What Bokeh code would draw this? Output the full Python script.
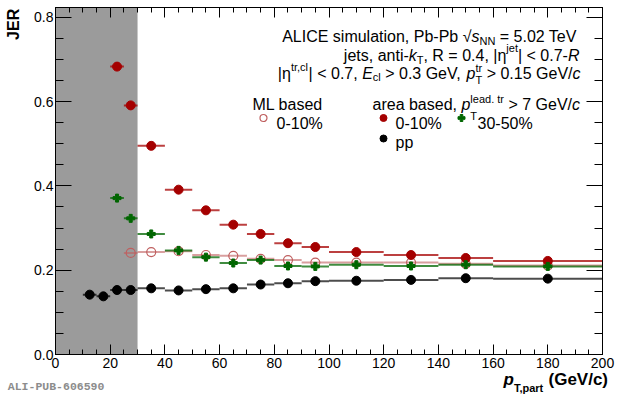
from bokeh.plotting import figure
from bokeh.models import (Range1d, LinearAxis, SingleIntervalTicker, Label,
                          BoxAnnotation, ColumnDataSource, PrintfTickFormatter)
from bokeh.embed import file_html
from bokeh.resources import INLINE

# ---------------- data ----------------
pp_lo = [10, 15, 20, 25, 30, 40, 50, 60, 70, 80, 90, 100, 120, 140, 160]
pp_hi = [15, 20, 25, 30, 40, 50, 60, 70, 80, 90, 100, 120, 140, 160, 200]
pp_jer = [0.142, 0.138, 0.153, 0.153, 0.157, 0.152, 0.155, 0.157, 0.166,
          0.169, 0.174, 0.175, 0.177, 0.181, 0.180]

pb_lo = [20, 25, 30, 40, 50, 60, 70, 80, 90, 100, 120, 140, 160]
pb_hi = [25, 30, 40, 50, 60, 70, 80, 90, 100, 120, 140, 160, 200]
area_0010 = [0.683, 0.591, 0.495, 0.391, 0.342, 0.308, 0.286, 0.264, 0.255,
             0.243, 0.236, 0.229, 0.222]
area_3050 = [0.371, 0.323, 0.286, 0.247, 0.231, 0.217, 0.224, 0.210, 0.209,
             0.213, 0.210, 0.213, 0.209]

ml_lo = [25, 30, 40, 50, 60, 70, 80, 90, 100, 120, 140, 160]
ml_hi = [30, 40, 50, 60, 70, 80, 90, 100, 120, 140, 160, 200]
ml_0010 = [0.241, 0.243, 0.245, 0.236, 0.234, 0.227, 0.224, 0.218, 0.218,
           0.218, 0.215, 0.211]

excluded_lo, excluded_hi = 0, 30
x_min, x_max = 0, 200
y_min, y_max = 0.0, 0.8232

RED = "#a50000"
GREEN = "#006600"
ML = "#bf5f5f"
BLACK = "#000000"
FONT = "Liberation Sans"

# ---------------- main figure ----------------
W, H = 620, 395
FL, FR, FT, FB = 55, 18, 7, 41   # borders in canvas px
p = figure(width=W, height=H, x_range=Range1d(x_min, x_max),
           y_range=Range1d(y_min, y_max), output_backend="svg",
           toolbar_location=None, min_border_left=FL, min_border_right=FR,
           min_border_top=FT, min_border_bottom=FB)
p.xgrid.visible = False
p.ygrid.visible = False
p.outline_line_color = "black"
p.outline_line_width = 1
p.background_fill_color = "white"
p.border_fill_color = "white"

frame_w = W - FL - FR
frame_h = H - FT - FB


def px2x(X):
    return x_min + (X - FL) * (x_max - x_min) / frame_w


def py2y(Y):
    return y_min + (FT + frame_h - Y) * (y_max - y_min) / frame_h


def style_axis(ax, major_len, minor_len, labels=True):
    ax.major_tick_in = major_len
    ax.major_tick_out = 0
    ax.minor_tick_in = minor_len
    ax.minor_tick_out = 0
    ax.axis_line_color = "black"
    ax.major_tick_line_color = "black"
    ax.minor_tick_line_color = "black"
    if labels:
        ax.major_label_text_font = FONT
        ax.major_label_text_font_size = "14px"
        ax.major_label_text_color = "black"
    else:
        ax.major_label_text_font_size = "1px"
        ax.major_label_text_color = None
        ax.major_label_standoff = 0


p.xaxis.ticker = SingleIntervalTicker(interval=20, num_minor_ticks=4)
p.xaxis.formatter = PrintfTickFormatter(format="%d")
p.yaxis.ticker = SingleIntervalTicker(interval=0.2, num_minor_ticks=4)
p.yaxis.formatter = PrintfTickFormatter(format="%.1f")
style_axis(p.xaxis[0], 10, 5)
style_axis(p.yaxis[0], 16, 8)
p.xaxis.major_label_standoff = 3
p.yaxis.major_label_standoff = 2

top = LinearAxis(ticker=SingleIntervalTicker(interval=20, num_minor_ticks=4))
style_axis(top, 10, 5, labels=False)
p.add_layout(top, "above")
right = LinearAxis(ticker=SingleIntervalTicker(interval=0.2, num_minor_ticks=4))
style_axis(right, 16, 8, labels=False)
p.add_layout(right, "right")

# grey excluded region
p.add_layout(BoxAnnotation(left=excluded_lo, right=excluded_hi,
                           fill_color="#9b9b9b", fill_alpha=1.0,
                           line_alpha=0, level="underlay"))


def series(lo, hi, y, color, marker, bar_alpha, fill=True):
    src = ColumnDataSource(dict(lo=lo, hi=hi, y=y,
                                x=[(a + b) / 2 for a, b in zip(lo, hi)]))
    p.segment(x0="lo", x1="hi", y0="y", y1="y", source=src,
              line_color=color, line_alpha=bar_alpha, line_width=2)
    if marker == "plus":
        p.scatter("x", "y", source=src, marker="plus", size=8,
                  fill_color=color, line_color=color)
    elif fill:
        p.scatter("x", "y", source=src, marker="circle", size=9,
                  fill_color=color, line_color=color)
    else:
        p.scatter("x", "y", source=src, marker="circle", size=9,
                  fill_color=None, line_color=color, line_width=1.2)


series(ml_lo, ml_hi, ml_0010, ML, "circle", 0.6, fill=False)
series(pb_lo, pb_hi, area_0010, RED, "circle", 0.75)
series(pb_lo, pb_hi, area_3050, GREEN, "plus", 0.75)
series(pp_lo, pp_hi, pp_jer, BLACK, "circle", 0.7)

# ---------------- overlay for texts outside the frame ----------------
ov = figure(frame_width=W, frame_height=H, x_range=Range1d(0, W),
            y_range=Range1d(H, 0), output_backend="svg",
            toolbar_location=None, min_border=0, min_border_left=0,
            min_border_right=0, min_border_top=0, min_border_bottom=0,
            x_axis_type=None, y_axis_type=None, margin=(-H, 0, 0, 0))
ov.grid.visible = False
ov.outline_line_color = None
ov.background_fill_alpha = 0
ov.border_fill_alpha = 0

# ---------------- text helpers ----------------
HELV = {' ': 278, '!': 278, '%': 889, '(': 333, ')': 333, ',': 278, '-': 333,
        '.': 278, '/': 278, '<': 584, '=': 584, '>': 584, '|': 260,
        '√': 549, 'η': 556,
        'A': 667, 'B': 667, 'C': 722, 'D': 722, 'E': 667, 'F': 611, 'G': 778,
        'H': 722, 'I': 278, 'J': 500, 'K': 667, 'L': 556, 'M': 833, 'N': 722,
        'O': 778, 'P': 667, 'Q': 778, 'R': 722, 'S': 667, 'T': 611, 'U': 722,
        'V': 667, 'W': 944, 'X': 667, 'Y': 667, 'Z': 611,
        'a': 556, 'b': 556, 'c': 500, 'd': 556, 'e': 556, 'f': 278, 'g': 556,
        'h': 556, 'i': 222, 'j': 222, 'k': 500, 'l': 222, 'm': 833, 'n': 556,
        'o': 556, 'p': 556, 'q': 556, 'r': 333, 's': 500, 't': 278, 'u': 556,
        'v': 500, 'w': 722, 'x': 500, 'y': 500, 'z': 500}
for d in "0123456789":
    HELV[d] = 556
HELVB = dict(HELV)
HELVB.update({'c': 556, 'p': 611, 'r': 389, 't': 333, 'J': 556})


def tw(s, size, bold=False):
    tab = HELVB if bold else HELV
    return sum(tab.get(ch, 556) for ch in s) * size / 1000.0


def label(X, Y, text, size=16, style="normal", color="black", align="left",
          baseline="alphabetic", font=FONT, angle=0, target="main"):
    stripped = text.lstrip(" ")
    X = X + tw(text[:len(text) - len(stripped)], size)
    if target == "main":
        fig, x, y = p, px2x(X), py2y(Y)
    else:
        fig, x, y = ov, X, Y
    fig.add_layout(Label(x=x, y=y, text=stripped, text_font=font,
                         text_font_size=f"{size}px", text_font_style=style,
                         text_color=color, text_align=align,
                         text_baseline=baseline, angle=angle,
                         angle_units="deg"))


def rich(segs, base, left=None, right=None, size=16, small=11):
    """segs: list of (kind, text, dy). kind: n, i, sub, sup, stack."""
    def seg_w(s):
        kind, txt, dy = s
        if kind in ("n", "i"):
            return tw(txt, size)
        if kind == "stack":
            return max(tw(txt[0], small), tw(txt[1], small))
        return tw(txt, small)
    total = sum(seg_w(s) for s in segs)
    x = left if left is not None else right - total
    for s in segs:
        kind, txt, dy = s
        if kind == "n":
            label(x, base - dy, txt, size)
        elif kind == "i":
            label(x, base - dy, txt, size, style="italic")
        elif kind in ("sub", "sup"):
            label(x, base - dy, txt, small)
        elif kind == "stack":
            label(x, base - dy[0], txt[0], small)
            label(x, base - dy[1], txt[1], small)
        x += seg_w(s)


# top-right header
rich([("n", "ALICE simulation, Pb-Pb √", 0), ("i", "s", 0), ("sub", "NN", -4),
      ("n", " = 5.02 TeV", 0)], base=36, right=578)
rich([("n", "jets, anti-", 0), ("i", "k", 0), ("sub", "T", -5),
      ("n", ", R = 0.4, |η", 0), ("sup", "jet", 7), ("n", "| < 0.7-", 0),
      ("i", "R", 0)], base=54.5, right=579)
rich([("n", "|η", 0), ("sup", "tr,cl", 6.5), ("n", "| < 0.7, ", 0),
      ("i", "E", 0), ("sub", "cl", -4), ("n", " > 0.3 GeV, ", 0),
      ("i", "p", 0), ("stack", ("tr", "T"), (5, -7)),
      ("n", " > 0.15 GeV/", 0), ("i", "c", 0)], base=72.5, right=580)

# legend
label(252, 103.5, "ML based")
rich([("n", "area based, ", 0), ("i", "p", 0),
      ("stack", ("lead. tr", "T"), (5, -12)), ("n", " > 7 GeV/", 0),
      ("i", "c", 0)], base=103.5, left=372)

leg_x = [px2x(263), px2x(383), px2x(461), px2x(383)]
leg_y = [py2y(117.5), py2y(117.5), py2y(117.5), py2y(138)]
p.scatter([leg_x[0]], [leg_y[0]], marker="circle", size=7, fill_color=None,
          line_color=ML, line_width=1.2)
p.scatter([leg_x[1]], [leg_y[1]], marker="circle", size=7, fill_color=RED,
          line_color=RED)
p.scatter([leg_x[2]], [leg_y[2]], marker="plus", size=7, fill_color=GREEN,
          line_color=GREEN)
p.scatter([leg_x[3]], [leg_y[3]], marker="circle", size=7, fill_color=BLACK,
          line_color=BLACK)
label(276, 122.5, "0-10%")
label(395, 122.5, "0-10%")
label(477, 122.5, "30-50%")
label(395, 141.5, "pp")

# axis titles (overlay, page coordinates)
label(12.5, 8.3, "JER", size=16, style="bold", align="right",
      baseline="middle", angle=90, target="ov")
label(503, 378.5, "p", size=17, style="bold italic", target="ov")
label(503 + tw("p", 17, True), 387.5, "T,part", size=11, style="bold",
      target="ov")
label(548, 378.5, "(GeV/c)", size=17, style="bold", target="ov")

# publication tag
label(7.3, 386, "ALI-PUB-606590", size=11.5, style="bold", color="#8c8c8c",
      baseline="middle", font="Liberation Mono", target="ov")

# two separate roots (no frame alignment); the overlay is pulled up over p
open("out.html", "w").write(file_html([p, ov], INLINE))
